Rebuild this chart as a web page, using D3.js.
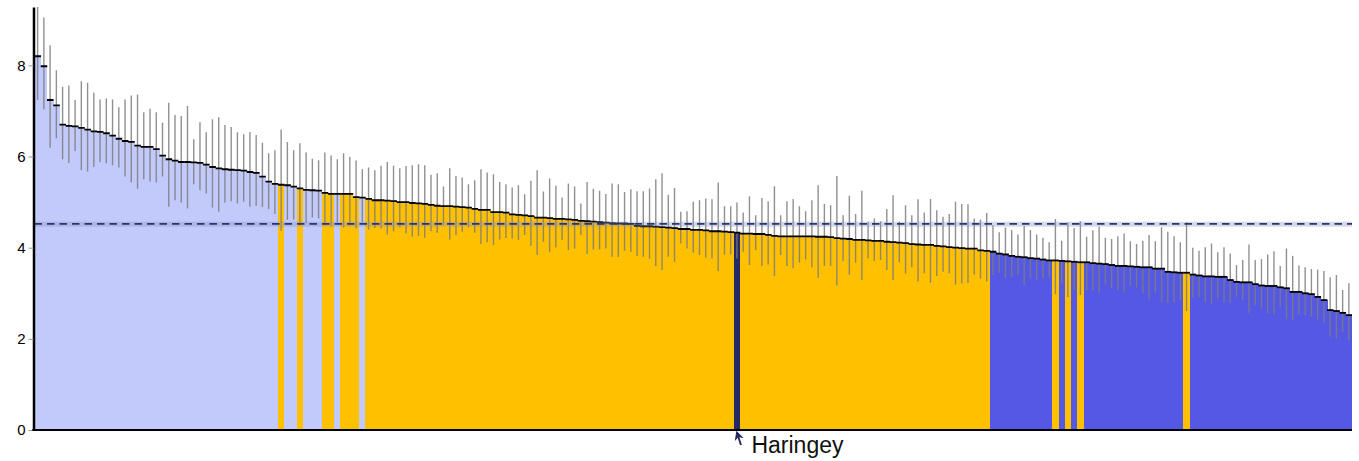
<!DOCTYPE html>
<html>
<head>
<meta charset="utf-8">
<script src="https://cdn.jsdelivr.net/npm/d3@7"></script>
<style>
  html, body { margin: 0; padding: 0; background: #ffffff; }
  svg { display: block; font-family: "Liberation Sans", Arial, Helvetica, sans-serif; }
</style>
</head>
<body>
<svg id="chart" width="1359" height="461"></svg>
<script>
// Rate per area, sorted from highest to lowest, with 95% confidence limits.
const rates = [
  8.20, 7.98, 7.24, 7.12, 6.70, 6.67, 6.66, 6.63, 6.59, 6.55,
  6.54, 6.51, 6.46, 6.39, 6.34, 6.32, 6.24, 6.21, 6.21, 6.16,
  6.02, 5.94, 5.91, 5.88, 5.88, 5.87, 5.86, 5.82, 5.77, 5.74,
  5.72, 5.71, 5.70, 5.69, 5.66, 5.64, 5.56, 5.45, 5.40, 5.38,
  5.37, 5.34, 5.30, 5.27, 5.26, 5.25, 5.20, 5.18, 5.18, 5.18,
  5.18, 5.11, 5.10, 5.07, 5.04, 5.04, 5.03, 5.02, 5.00, 5.00,
  4.98, 4.97, 4.96, 4.94, 4.92, 4.91, 4.91, 4.90, 4.89, 4.88,
  4.85, 4.83, 4.83, 4.78, 4.78, 4.77, 4.73, 4.72, 4.71, 4.69,
  4.66, 4.66, 4.65, 4.63, 4.63, 4.62, 4.61, 4.59, 4.58, 4.57,
  4.56, 4.55, 4.54, 4.53, 4.53, 4.52, 4.48, 4.47, 4.47, 4.46,
  4.45, 4.44, 4.43, 4.41, 4.41, 4.39, 4.39, 4.38, 4.36, 4.36,
  4.35, 4.34, 4.33, 4.31, 4.31, 4.30, 4.30, 4.28, 4.26, 4.25,
  4.25, 4.25, 4.25, 4.25, 4.25, 4.24, 4.24, 4.23, 4.21, 4.20,
  4.19, 4.17, 4.17, 4.16, 4.15, 4.15, 4.13, 4.12, 4.11, 4.10,
  4.08, 4.07, 4.06, 4.06, 4.04, 4.03, 4.01, 4.00, 3.99, 3.98,
  3.98, 3.94, 3.93, 3.91, 3.87, 3.85, 3.82, 3.80, 3.79, 3.77,
  3.76, 3.74, 3.72, 3.72, 3.71, 3.70, 3.69, 3.68, 3.68, 3.66,
  3.65, 3.64, 3.62, 3.60, 3.60, 3.59, 3.58, 3.57, 3.57, 3.54,
  3.54, 3.47, 3.46, 3.45, 3.45, 3.41, 3.39, 3.37, 3.37, 3.36,
  3.36, 3.29, 3.25, 3.24, 3.24, 3.20, 3.17, 3.16, 3.16, 3.13,
  3.11, 3.03, 3.03, 3.00, 2.98, 2.92, 2.85, 2.63, 2.61, 2.57,
  2.52
];

const lowerCI = [
  7.24, 7.03, 6.19, 6.40, 5.94, 5.86, 6.12, 5.70, 5.67, 5.77,
  5.88, 5.85, 5.81, 5.76, 5.56, 5.43, 5.29, 5.50, 5.45, 5.43,
  5.56, 4.90, 5.04, 4.99, 4.86, 5.39, 5.26, 5.19, 4.88, 4.79,
  4.99, 5.02, 4.97, 5.01, 4.90, 4.92, 4.89, 4.85, 4.74, 4.37,
  4.61, 4.62, 4.49, 4.54, 4.66, 4.64, 4.49, 4.47, 4.55, 4.44,
  4.49, 4.42, 4.55, 4.40, 4.43, 4.42, 4.29, 4.36, 4.44, 4.31,
  4.24, 4.26, 4.22, 4.36, 4.33, 4.49, 4.18, 4.27, 4.35, 4.44,
  4.33, 4.08, 4.12, 4.06, 4.18, 4.21, 4.20, 4.17, 4.28, 4.04,
  3.84, 4.13, 3.91, 4.01, 4.17, 3.95, 3.98, 4.28, 3.86, 3.96,
  3.96, 3.98, 3.80, 3.80, 3.93, 3.91, 3.82, 3.80, 3.76, 3.60,
  3.51, 3.80, 3.69, 4.09, 3.98, 3.89, 3.84, 3.78, 3.76, 3.49,
  3.85, 3.85, 3.76, 3.91, 3.62, 3.95, 3.60, 3.63, 3.38, 3.84,
  3.60, 3.55, 3.67, 3.74, 3.57, 3.34, 3.60, 3.60, 3.17, 3.71,
  3.41, 3.67, 3.29, 3.77, 3.71, 3.73, 3.51, 3.29, 3.68, 3.43,
  3.57, 3.26, 3.44, 3.23, 3.38, 3.47, 3.44, 3.19, 3.22, 3.23,
  3.41, 3.32, 3.26, 3.40, 3.45, 3.33, 3.35, 3.40, 3.18, 3.33,
  3.30, 3.32, 3.36, 2.98, 3.22, 2.92, 3.07, 2.96, 3.06, 3.06,
  3.01, 3.19, 3.12, 3.07, 3.02, 3.16, 3.13, 3.00, 2.86, 3.01,
  2.81, 2.78, 2.79, 2.85, 2.61, 2.89, 2.92, 2.81, 2.76, 2.89,
  2.79, 2.79, 2.92, 2.85, 2.57, 2.74, 2.67, 2.56, 2.54, 2.70,
  2.43, 2.41, 2.54, 2.52, 2.48, 2.43, 2.34, 2.05, 2.01, 2.16,
  1.97
];

const upperCI = [
  9.40, 9.05, 8.44, 7.89, 7.53, 7.56, 7.24, 7.65, 7.62, 7.40,
  7.25, 7.27, 7.25, 7.08, 7.25, 7.34, 7.36, 6.97, 7.05, 6.97,
  6.74, 7.18, 6.91, 6.89, 7.11, 6.38, 6.75, 6.53, 6.82, 6.86,
  6.69, 6.65, 6.53, 6.49, 6.54, 6.47, 6.30, 6.07, 6.14, 6.59,
  6.32, 6.14, 6.29, 6.09, 5.95, 5.92, 6.09, 6.02, 5.94, 6.07,
  5.99, 5.91, 5.72, 5.76, 5.70, 5.80, 5.88, 5.80, 5.74, 5.79,
  5.81, 5.83, 5.81, 5.60, 5.63, 5.34, 5.74, 5.57, 5.54, 5.39,
  5.48, 5.72, 5.65, 5.61, 5.44, 5.39, 5.32, 5.37, 5.17, 5.47,
  5.70, 5.23, 5.52, 5.36, 5.10, 5.41, 5.34, 4.97, 5.44, 5.29,
  5.25, 5.18, 5.41, 5.39, 5.22, 5.28, 5.24, 5.24, 5.30, 5.50,
  5.63, 5.16, 5.31, 4.79, 4.80, 5.01, 5.04, 5.08, 5.06, 5.43,
  4.91, 4.91, 4.99, 4.77, 5.13, 4.71, 5.09, 5.02, 5.35, 4.71,
  5.02, 5.07, 4.91, 4.80, 5.04, 5.37, 4.96, 4.93, 5.57, 4.71,
  5.14, 4.74, 5.25, 4.57, 4.64, 4.58, 4.85, 5.15, 4.57, 4.93,
  4.71, 5.06, 4.77, 5.07, 4.82, 4.68, 4.74, 5.01, 4.96, 4.95,
  4.64, 4.62, 4.76, 4.49, 4.34, 4.44, 4.39, 4.29, 4.48, 4.39,
  4.29, 4.22, 4.12, 4.63, 4.15, 4.56, 4.43, 4.58, 4.24, 4.38,
  4.46, 4.22, 4.19, 4.25, 4.31, 4.14, 4.08, 4.15, 4.28, 4.14,
  4.45, 4.35, 4.25, 4.12, 4.56, 4.00, 3.93, 4.01, 4.09, 3.90,
  4.01, 3.87, 3.62, 3.73, 4.07, 3.73, 3.75, 3.85, 3.92, 3.60,
  3.98, 3.82, 3.61, 3.57, 3.53, 3.52, 3.49, 3.35, 3.40, 3.07,
  3.22
];

// England value and its confidence interval
const englandRate = 4.52;
const englandCI = [4.46, 4.57];

const highlightIndex = 112;
const highlightName = "Haringey";

const yTicks = [0, 2, 4, 6, 8];
const yMax = 9.28;

const colours = {
  higher: "#c2cafc",
  similar: "#ffc000",
  lower: "#5458e4",
  highlight: "#252a66"
};

// Compare each area's interval with the England value
function comparison(i) {
  if (i === highlightIndex) return "highlight";
  if (lowerCI[i] > englandRate) return "higher";
  if (upperCI[i] < englandRate) return "lower";
  return "similar";
}

const W = 1359, H = 461;
const margin = { top: 7, right: 7, bottom: 31, left: 34.5 };

const svg = d3.select("#chart");

const x = d3.scaleBand()
  .domain(d3.range(rates.length))
  .range([margin.left, W - margin.right])
  .padding(0);

const y = d3.scaleLinear()
  .domain([0, yMax])
  .range([H - margin.bottom, margin.top]);

const bw = x.bandwidth();

svg.append("defs").append("clipPath").attr("id", "plot-clip")
  .append("rect")
  .attr("x", margin.left).attr("y", margin.top)
  .attr("width", W - margin.right - margin.left)
  .attr("height", H - margin.bottom - margin.top);

const plot = svg.append("g").attr("clip-path", "url(#plot-clip)");

// Bars (crisp edges so neighbouring bars join without seams)
plot.append("g")
  .attr("shape-rendering", "crispEdges")
  .selectAll("rect")
  .data(rates)
  .join("rect")
  .attr("x", (d, i) => x(i))
  .attr("width", bw + 0.5)
  .attr("y", d => y(d))
  .attr("height", d => y(0) - y(d))
  .attr("fill", (d, i) => colours[comparison(i)]);

// Confidence intervals
plot.append("g").selectAll("line")
  .data(rates)
  .join("line")
  .attr("x1", (d, i) => x(i) + bw / 2)
  .attr("x2", (d, i) => x(i) + bw / 2)
  .attr("y1", (d, i) => y(upperCI[i]))
  .attr("y2", (d, i) => y(lowerCI[i]))
  .attr("stroke", "#7d7d7d")
  .attr("stroke-opacity", 0.85)
  .attr("stroke-width", 1.4);

// Step line along the bar tops
plot.append("g").selectAll("line")
  .data(rates)
  .join("line")
  .attr("x1", (d, i) => x(i))
  .attr("x2", (d, i) => x(i) + bw + 0.3)
  .attr("y1", d => y(d))
  .attr("y2", d => y(d))
  .attr("stroke", "#000000")
  .attr("stroke-width", 1.8);

// England interval band and value
plot.append("rect")
  .attr("x", margin.left)
  .attr("width", W - margin.right - margin.left)
  .attr("y", y(englandCI[1]))
  .attr("height", y(englandCI[0]) - y(englandCI[1]))
  .attr("fill", "#8890c0")
  .attr("fill-opacity", 0.35);

plot.append("line")
  .attr("x1", margin.left)
  .attr("x2", W - margin.right)
  .attr("y1", y(englandRate))
  .attr("y2", y(englandRate))
  .attr("stroke", "#2b3372")
  .attr("stroke-width", 1.8)
  .attr("stroke-dasharray", "7.5,5");

// Axes
const yAxis = d3.axisLeft(y)
  .tickValues(yTicks)
  .tickFormat(d3.format("d"))
  .tickSize(5)
  .tickSizeOuter(0)
  .tickPadding(3);

const gy = svg.append("g")
  .attr("transform", `translate(${margin.left - 1},0)`)
  .call(yAxis);
gy.select(".domain").attr("stroke", "#000").attr("stroke-width", 2.5);
gy.selectAll(".tick line").attr("stroke", "#999");
gy.selectAll(".tick text")
  .attr("fill", "#000")
  .style("font-size", "15px")
  .style("font-family", '"Liberation Sans", Arial, sans-serif');

svg.append("line")
  .attr("x1", margin.left - 2.2)
  .attr("x2", W - margin.right)
  .attr("y1", y(0))
  .attr("y2", y(0))
  .attr("stroke", "#000")
  .attr("stroke-width", 2);

// Highlighted area label with arrow
svg.append("defs").append("marker")
  .attr("id", "arrowhead")
  .attr("viewBox", "0 0 10 10")
  .attr("refX", 8).attr("refY", 5)
  .attr("markerWidth", 5).attr("markerHeight", 5)
  .attr("orient", "auto")
  .append("path")
  .attr("d", "M0,0 L10,5 L0,10 L3,5 Z")
  .attr("fill", colours.highlight);

const hx = x(highlightIndex) + bw / 2;
svg.append("line")
  .attr("x1", hx + 4)
  .attr("y1", y(0) + 15)
  .attr("x2", hx)
  .attr("y2", y(0) + 2.5)
  .attr("stroke", colours.highlight)
  .attr("stroke-width", 1.9)
  .attr("marker-end", "url(#arrowhead)");

svg.append("text")
  .attr("x", hx + 14.5)
  .attr("y", y(0) + 23)
  .attr("fill", "#111")
  .style("font-size", "23px")
  .text(highlightName);
</script>
</body>
</html>
